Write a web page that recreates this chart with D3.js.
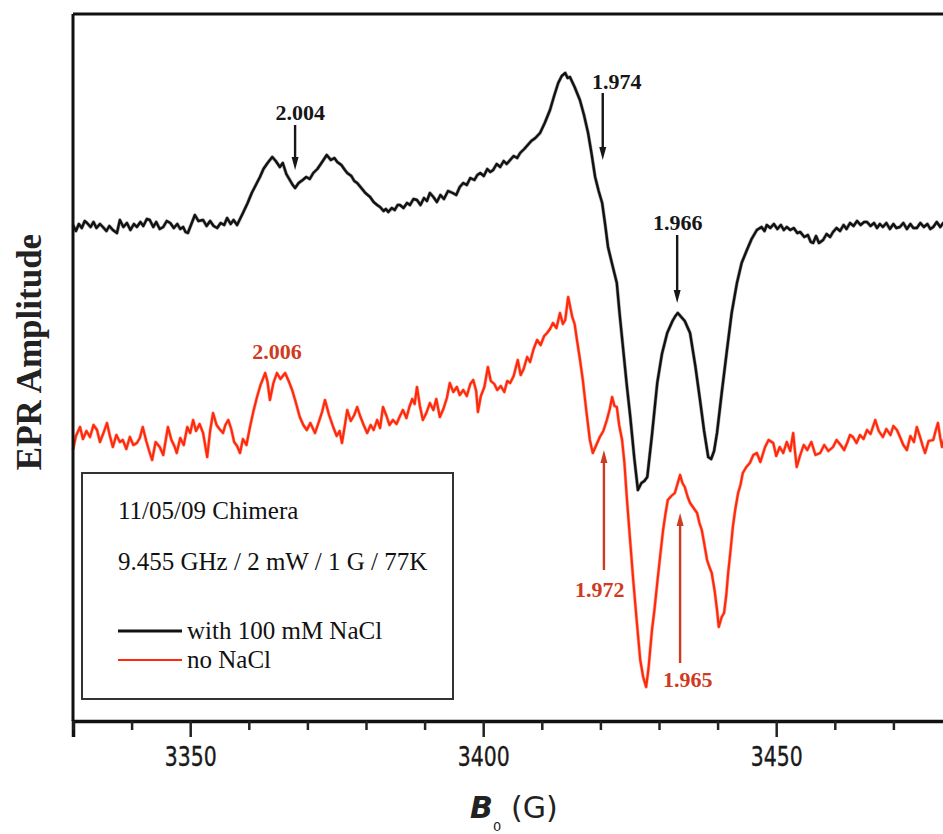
<!DOCTYPE html>
<html><head><meta charset="utf-8">
<script src="https://cdn.jsdelivr.net/npm/d3@7/dist/d3.min.js"></script>
<style>html,body{margin:0;padding:0;background:#fff;overflow:hidden}</style>
</head><body><svg id="c" width="943" height="834"></svg>
<script>
// ---- data (field in G, amplitude in arbitrary units) ----
const fieldBlack = [3330.0,3330.5,3331.0,3331.5,3332.0,3332.4,3333.0,3333.5,3334.0,3334.6,3335.1,3335.7,3336.2,3336.8,3337.5,3338.0,3338.6,3339.2,3339.8,3340.4,3340.9,3341.5,3342.0,3342.6,3343.1,3343.7,3344.2,3344.8,3345.4,3346.0,3346.6,3347.2,3347.8,3348.3,3348.8,3349.2,3349.6,3350.2,3350.8,3351.4,3352.2,3352.8,3353.4,3354.0,3354.6,3355.2,3355.8,3356.3,3356.9,3357.4,3358.0,3358.5,3359.0,3359.8,3360.5,3361.2,3361.9,3362.5,3363.2,3364.0,3364.6,3365.3,3365.8,3366.4,3367.0,3367.5,3367.9,3368.5,3369.2,3369.8,3370.4,3371.0,3371.7,3372.4,3373.3,3374.0,3374.6,3375.1,3375.8,3376.4,3376.8,3377.5,3378.0,3378.5,3379.2,3379.9,3380.7,3381.3,3381.9,3382.4,3383.0,3383.4,3383.8,3384.4,3384.9,3385.4,3385.8,3386.4,3387.0,3387.5,3388.1,3388.7,3389.3,3389.9,3390.4,3390.9,3391.5,3392.1,3392.7,3393.3,3394.0,3394.8,3395.4,3396.0,3396.6,3397.2,3397.8,3398.5,3399.0,3399.5,3400.1,3400.7,3401.2,3401.7,3402.3,3402.9,3403.5,3404.0,3404.6,3405.2,3405.8,3406.3,3407.0,3407.6,3408.2,3408.9,3409.7,3410.5,3411.4,3412.1,3412.8,3413.4,3414.0,3414.4,3414.8,3415.6,3416.5,3417.2,3417.9,3418.5,3419.1,3419.7,3420.3,3420.8,3421.3,3422.0,3422.8,3423.3,3423.9,3424.5,3425.1,3425.8,3426.4,3427.0,3427.5,3428.0,3428.8,3429.7,3430.5,3431.4,3432.3,3432.8,3433.2,3433.8,3434.4,3435.3,3436.2,3437.0,3437.7,3438.4,3438.9,3439.4,3439.9,3440.7,3441.6,3442.4,3443.3,3444.1,3445.0,3445.8,3446.7,3447.5,3448.0,3448.4,3449.0,3449.6,3450.2,3450.8,3451.3,3451.8,3452.4,3453.0,3453.6,3454.1,3454.8,3455.4,3455.9,3456.3,3456.8,3457.3,3458.0,3458.6,3459.2,3459.7,3460.3,3460.9,3461.5,3462.0,3462.6,3463.2,3463.8,3464.4,3465.0,3465.5,3466.1,3466.7,3467.2,3467.7,3468.2,3468.8,3469.4,3470.0,3470.5,3471.1,3471.7,3472.3,3472.9,3473.4,3474.0,3474.6,3475.2,3475.8,3476.3,3476.8,3477.4,3478.0,3478.5,3479.2,3480.0];
const ampBlack = [496,490,497,493,500,498,494,499,493,497,494,490,495,491,488,501,494,498,491,497,494,499,495,502,501,494,499,492,494,500,498,493,497,492,494,489,488,497,506,500,501,495,500,495,493,498,496,503,497,501,496,502,508,518,528,536,544,552,558,564,560,554,558,547,541,536,533,538,541,544,542,548,552,558,566,561,563,559,556,551,548,545,540,538,533,528,524,519,516,514,510,512,509,513,511,516,516,513,518,516,522,521,516,523,520,528,524,519,526,522,530,528,526,534,538,536,543,541,546,548,545,552,549,551,557,554,560,557,561,565,563,568,572,576,580,583,588,598,611,625,638,645,648,643,644,634,621,606,588,567,544,530,518,497,474,457,438,406,371,336,304,262,231,238,240,244,286,338,367,388,400,405,408,404,400,388,355,321,290,264,262,270,288,328,371,408,438,458,471,482,491,494,490,496,493,497,492,496,491,494,491,493,488,489,484,486,479,478,485,478,481,487,484,489,493,490,496,492,498,495,500,496,499,499,495,498,493,497,494,498,492,497,493,494,498,492,497,493,493,498,494,497,492,494,499,494,498,496,497];

const fieldRed = [3330.0,3330.5,3331.2,3331.7,3332.3,3332.9,3333.5,3334.1,3334.6,3335.2,3335.8,3336.3,3336.8,3337.4,3338.0,3338.5,3339.1,3339.7,3340.3,3340.9,3341.4,3341.9,3342.5,3343.0,3343.5,3344.1,3344.8,3345.4,3346.2,3346.8,3347.3,3347.7,3348.3,3348.9,3349.5,3350.0,3350.5,3351.0,3351.6,3352.2,3352.9,3353.4,3353.9,3354.5,3355.0,3355.6,3356.0,3356.5,3357.0,3357.5,3358.0,3358.5,3359.0,3359.6,3360.2,3360.8,3361.4,3362.0,3362.8,3363.2,3363.6,3364.2,3364.8,3365.4,3366.2,3366.8,3367.4,3368.0,3368.7,3369.3,3369.9,3370.5,3371.3,3372.0,3372.5,3373.0,3373.7,3374.4,3375.0,3375.5,3375.9,3376.4,3376.8,3377.4,3378.0,3378.5,3379.0,3379.6,3380.2,3380.8,3381.3,3381.9,3382.4,3382.9,3383.5,3384.0,3384.6,3385.2,3385.8,3386.3,3386.9,3387.4,3387.9,3388.3,3388.7,3389.2,3389.7,3390.3,3390.9,3391.5,3392.0,3392.6,3393.2,3393.8,3394.3,3394.9,3395.5,3396.0,3396.6,3397.2,3397.8,3398.3,3398.8,3399.1,3399.6,3400.2,3400.8,3401.3,3401.9,3402.4,3403.0,3403.6,3404.1,3404.6,3405.2,3405.9,3406.4,3406.9,3407.5,3408.0,3408.6,3409.2,3409.8,3410.4,3410.9,3411.4,3411.9,3412.5,3413.1,3413.6,3414.0,3414.5,3415.2,3415.6,3416.0,3416.5,3417.0,3417.6,3418.2,3418.7,3419.3,3419.9,3420.5,3421.1,3421.6,3422.0,3422.4,3422.8,3423.2,3423.7,3424.1,3424.5,3425.0,3425.6,3426.2,3426.8,3427.3,3427.8,3428.2,3428.8,3429.2,3429.7,3430.2,3430.7,3431.1,3431.5,3432.1,3432.7,3433.2,3433.6,3434.0,3434.4,3434.9,3435.3,3435.9,3436.5,3436.9,3437.3,3437.7,3438.2,3438.6,3439.0,3439.5,3439.9,3440.2,3440.7,3441.1,3441.5,3441.8,3442.2,3442.6,3443.0,3443.5,3443.9,3444.3,3444.9,3445.5,3446.1,3446.7,3447.3,3448.1,3448.7,3449.5,3450.0,3450.6,3451.2,3451.8,3452.4,3452.9,3453.2,3453.5,3454.1,3454.7,3455.3,3456.0,3456.7,3457.5,3458.2,3458.9,3459.7,3460.3,3461.0,3461.6,3462.1,3462.6,3463.1,3463.7,3464.3,3464.9,3465.5,3466.1,3466.9,3467.5,3468.2,3468.8,3469.5,3470.0,3470.6,3471.2,3471.7,3472.3,3472.9,3473.5,3474.0,3474.6,3475.0,3475.4,3476.0,3476.8,3477.2,3477.6,3478.0,3478.3,3479.0,3480.0];
const ampRed = [271,285,294,282,290,284,296,291,279,288,298,285,274,286,279,281,272,284,276,278,283,294,280,270,261,279,274,266,294,281,275,268,283,276,294,288,301,290,297,288,264,290,308,296,292,288,296,301,292,279,275,268,282,276,294,310,324,336,348,339,321,338,348,342,348,340,331,319,304,296,291,298,288,300,309,321,306,294,285,290,278,296,311,300,306,314,305,296,288,296,291,301,293,314,305,296,301,297,305,311,303,314,322,317,334,315,301,308,318,311,322,304,312,323,338,329,334,326,331,325,337,341,330,309,325,334,354,340,337,331,335,329,340,338,345,361,346,352,364,359,372,381,376,385,388,392,398,393,408,397,401,424,404,397,381,362,341,310,281,268,276,284,290,301,312,324,315,314,296,281,258,224,186,141,100,61,44,34,52,91,110,138,165,191,207,221,225,228,238,246,238,234,224,218,213,208,198,191,178,161,154,148,130,111,94,104,108,127,148,170,194,211,228,236,248,254,258,266,268,259,274,281,278,265,274,268,279,270,288,270,254,266,276,271,279,266,268,276,270,274,281,276,271,278,286,284,278,286,282,291,287,301,290,284,292,286,295,291,283,276,271,285,279,294,283,275,268,280,281,290,298,283,274,289,284];

const majorTicks = [3350, 3400, 3450];
const minorTicks = [3330, 3340, 3360, 3370, 3380, 3390, 3410, 3420, 3430, 3440, 3460, 3470];

// annotations (g-values): label text, label centre field & baseline amplitude, arrow field, arrow tail & tip amplitude
const annLabels   = ["2.004", "1.974", "1.966", "2.006", "1.972", "1.965"];
const annSeries   = ["black", "black", "black", "red", "red", "red"];
const annLabelB   = [3368.8, 3422.8, 3433.2, 3364.8, 3419.9, 3434.9];
const annLabelAmp = [601, 632, 491, 362, 124, 34];
const annArrowB   = [3367.9, 3420.4, 3433.1, null, 3420.6, 3433.6];
const annTailAmp  = [596, 628, 486, null, 151, 58];
const annTipAmp   = [551, 561, 418, null, 271, 208];

const legendTitle = ["11/05/09 Chimera", "9.455 GHz / 2 mW / 1 G / 77K"];
const legendNames = ["with 100 mM NaCl", "no NaCl"];

// ---- drawing ----
const svg = d3.select("#c");
const W = 943, H = 834;
svg.append("rect").attr("width", W).attr("height", H).attr("fill", "#fff");

const x = d3.scaleLinear().domain([3330, 3480]).range([73, 952]);
const y = d3.scaleLinear().domain([0, 707]).range([721, 14]);

const BLACK = "#111", RED = "#ff2a0c", ANNRED = "#cf3a22";

// lines
const line = d3.line().x(d => x(d[0])).y(d => y(d[1]));
const redData = fieldRed.map((f, i) => [f, ampRed[i]]);
const blackData = fieldBlack.map((f, i) => [f, ampBlack[i]]);
svg.append("path").attr("d", line(redData)).attr("fill", "none")
  .attr("stroke", "#ff7a66").attr("stroke-width", 3.4).attr("stroke-linejoin", "round").attr("opacity", 0.6);
svg.append("path").attr("d", line(redData)).attr("fill", "none")
  .attr("stroke", RED).attr("stroke-width", 2.2).attr("stroke-linejoin", "round");
svg.append("path").attr("d", line(blackData)).attr("fill", "none")
  .attr("stroke", "#555").attr("stroke-width", 3.6).attr("stroke-linejoin", "round").attr("opacity", 0.5);
svg.append("path").attr("d", line(blackData)).attr("fill", "none")
  .attr("stroke", BLACK).attr("stroke-width", 2.4).attr("stroke-linejoin", "round");

// frame
svg.append("line").attr("x1", x(3330)).attr("x2", x(3480)).attr("y1", y(707)).attr("y2", y(707))
  .attr("stroke", "#111").attr("stroke-width", 3);
svg.append("line").attr("x1", x(3330)).attr("x2", x(3330)).attr("y1", y(707)).attr("y2", y(0))
  .attr("stroke", "#111").attr("stroke-width", 3);

// bottom axis
const axisG = svg.append("g").attr("transform", `translate(0,${y(0)})`);
axisG.call(d3.axisBottom(x).tickValues(majorTicks).tickSize(16).tickFormat(d3.format("d")));
axisG.select(".domain").attr("stroke", "#111").attr("stroke-width", 3.5);
axisG.selectAll(".tick line").attr("stroke", "#222").attr("stroke-width", 2.5);
axisG.selectAll(".tick text")
  .attr("y", 45).attr("dy", 0)
  .attr("font-family", "DejaVu Sans, sans-serif").attr("font-size", 27).attr("fill", "#1a1a1a")
  .attr("stroke", "#1a1a1a").attr("stroke-width", 0.4)
  .attr("textLength", 52).attr("lengthAdjust", "spacingAndGlyphs");
const minorG = svg.append("g").attr("transform", `translate(0,${y(0)})`);
minorG.call(d3.axisBottom(x).tickValues(minorTicks).tickSize(9).tickFormat(""));
minorG.select(".domain").remove();
minorG.selectAll(".tick line").attr("stroke", "#222").attr("stroke-width", 2.5);

// axis titles
svg.append("text").attr("x", 470).attr("y", 818)
  .attr("font-family", "DejaVu Sans, sans-serif").attr("font-size", 30).attr("fill", "#222")
  .attr("font-style", "italic").attr("font-weight", "bold").text("B");
svg.append("text").attr("x", 493).attr("y", 831)
  .attr("font-family", "DejaVu Sans, sans-serif").attr("font-size", 13).attr("fill", "#222").text("0");
svg.append("text").attr("x", 511).attr("y", 818)
  .attr("font-family", "DejaVu Sans, sans-serif").attr("font-size", 30).attr("fill", "#222").text("(G)");

svg.append("text").attr("transform", "translate(41,352) rotate(-90)")
  .attr("text-anchor", "middle").attr("font-family", "Liberation Serif, serif")
  .attr("font-weight", "bold").attr("font-size", 35).attr("fill", "#222")
  .text("EPR Amplitude");

// annotations
const annG = svg.append("g");
annLabels.forEach((lab, i) => {
  const col = annSeries[i] === "red" ? ANNRED : "#161616";
  annG.append("text").attr("x", x(annLabelB[i])).attr("y", y(annLabelAmp[i]))
    .attr("text-anchor", "middle")
    .attr("font-family", "Liberation Serif, serif").attr("font-weight", "bold")
    .attr("font-size", 22).attr("fill", col).text(lab);
  if (annArrowB[i] !== null) {
    const px = x(annArrowB[i]);
    const tailY = y(annTailAmp[i]), tipY = y(annTipAmp[i]);
    const dir = tipY > tailY ? 1 : -1;
    const headLen = 13, headW = 3.5;
    const baseY = tipY - dir * headLen;
    annG.append("line").attr("x1", px).attr("x2", px).attr("y1", tailY).attr("y2", baseY)
      .attr("stroke", col).attr("stroke-width", 2.4);
    annG.append("path")
      .attr("d", `M${px - headW},${baseY} L${px + headW},${baseY} L${px},${tipY} Z`)
      .attr("fill", col);
  }
});

// legend
const lg = svg.append("g");
lg.append("rect").attr("x", 82).attr("y", 473).attr("width", 371).attr("height", 226)
  .attr("fill", "#fff").attr("stroke", "#333").attr("stroke-width", 2);
lg.selectAll("text.title").data(legendTitle).join("text").attr("class", "title")
  .attr("x", 118).attr("y", (d, i) => 519 + i * 51)
  .attr("font-family", "Liberation Serif, serif").attr("font-size", 25).attr("fill", "#111")
  .text(d => d);
const legCols = [BLACK, RED];
lg.selectAll("line.key").data(legendNames).join("line").attr("class", "key")
  .attr("x1", 118).attr("x2", 182).attr("y1", (d, i) => 631 + i * 29).attr("y2", (d, i) => 631 + i * 29)
  .attr("stroke", (d, i) => legCols[i]).attr("stroke-width", (d, i) => i === 0 ? 3 : 2);
lg.selectAll("text.name").data(legendNames).join("text").attr("class", "name")
  .attr("x", 187).attr("y", (d, i) => 639 + i * 29)
  .attr("font-family", "Liberation Serif, serif").attr("font-size", 25).attr("fill", "#111")
  .text(d => d);
</script></body></html>
